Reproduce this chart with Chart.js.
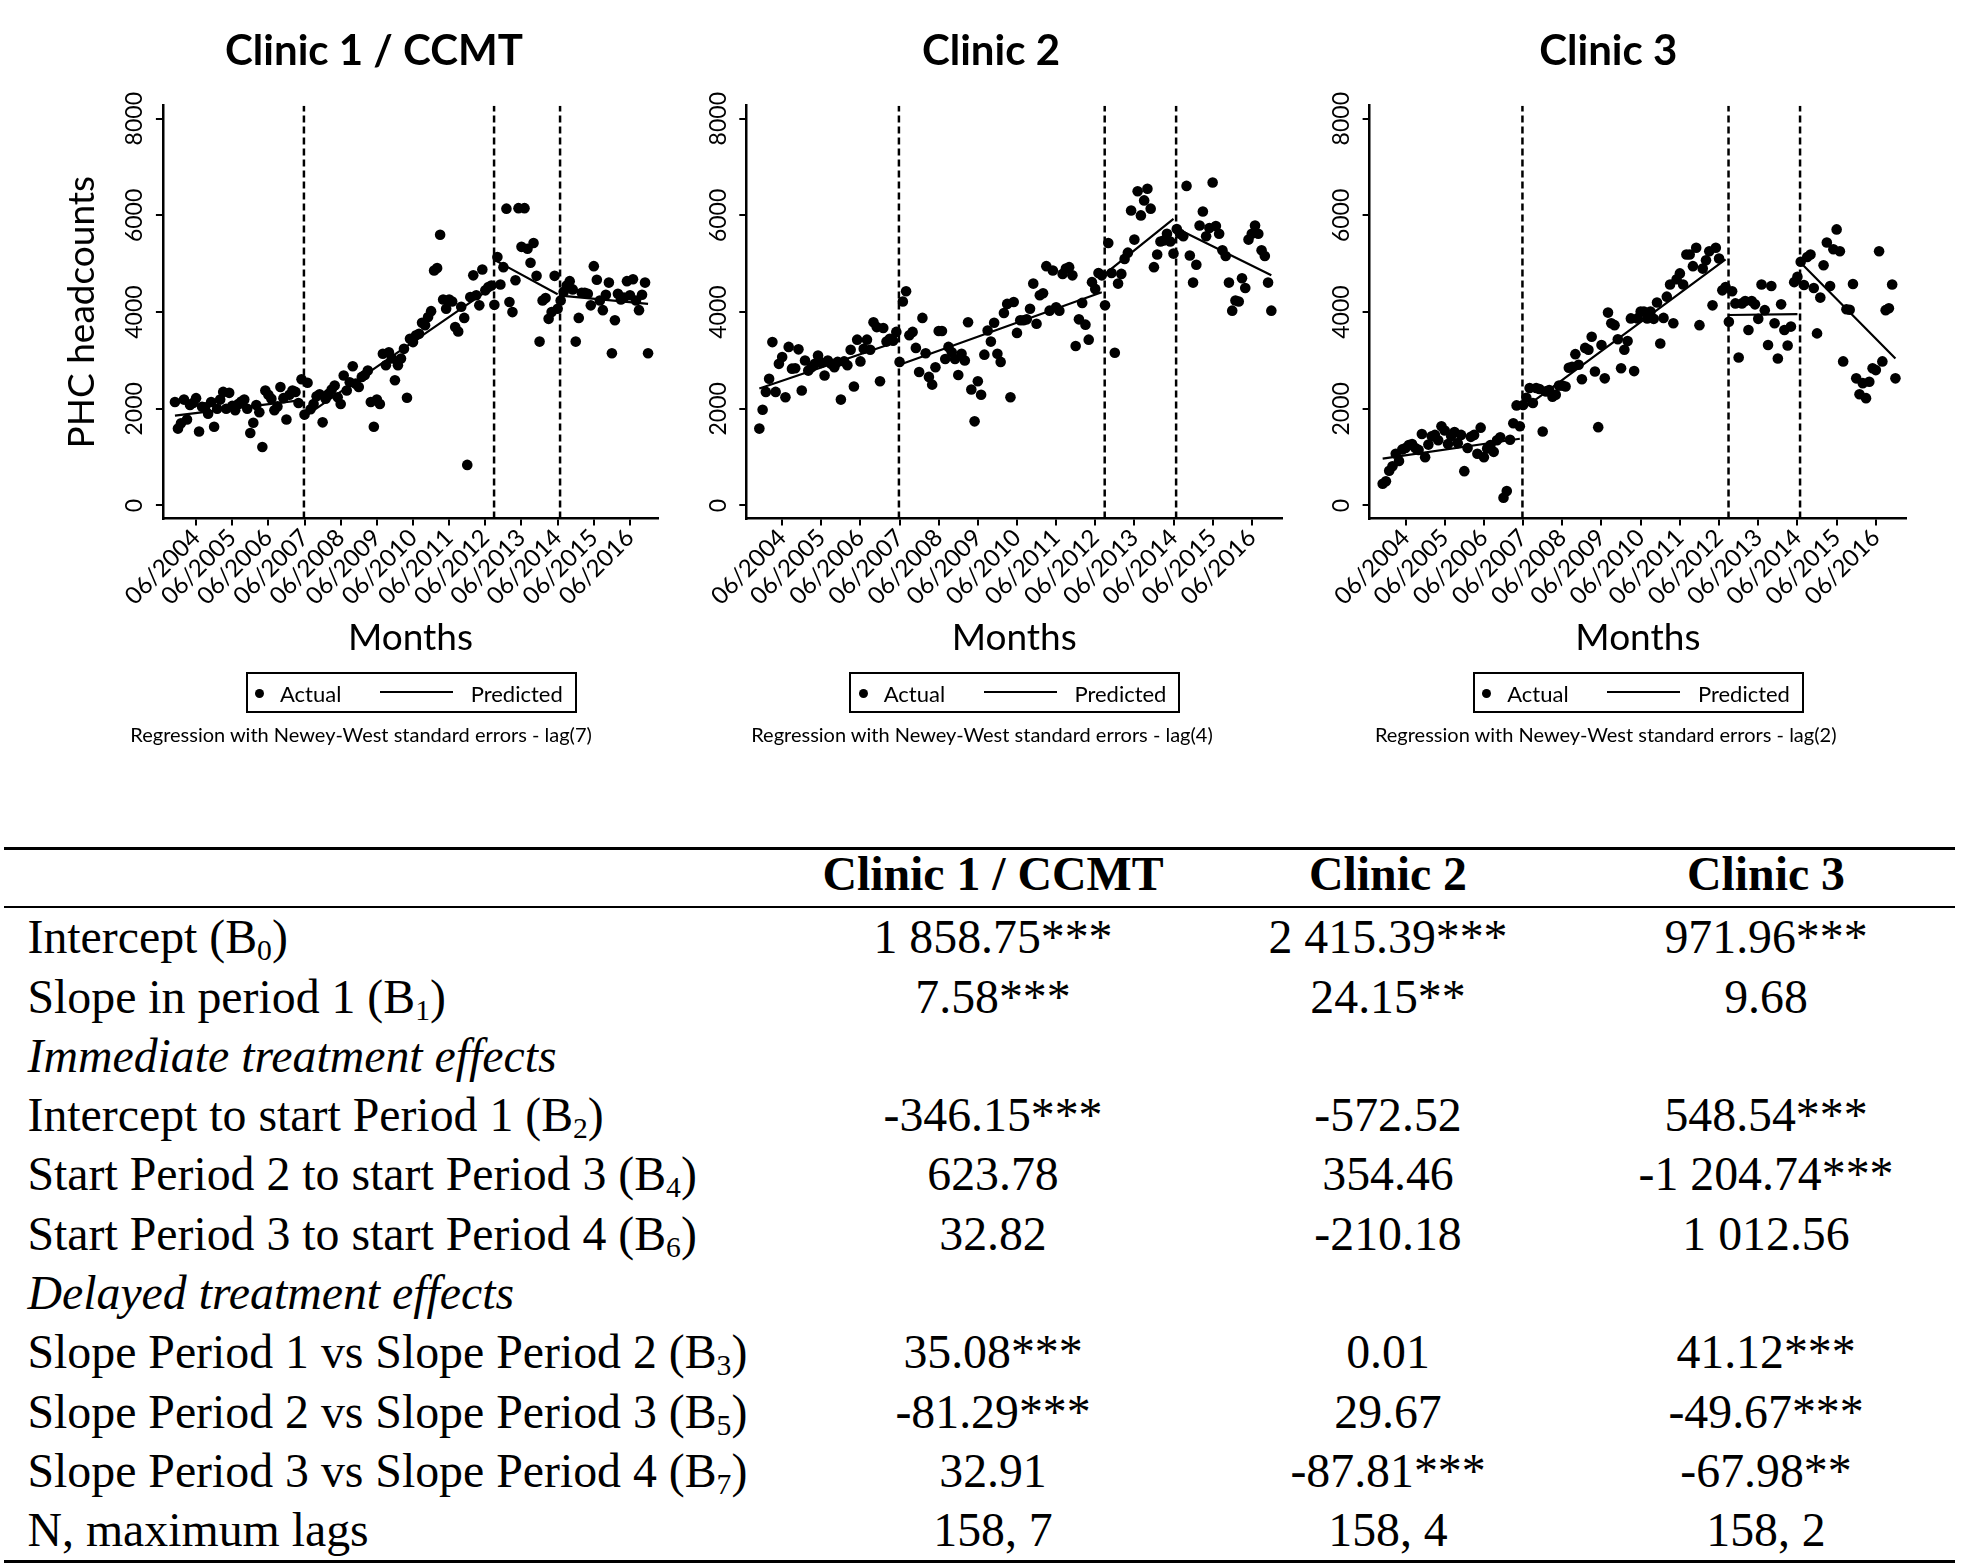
<!DOCTYPE html>
<html><head><meta charset="utf-8"><title>PHC headcounts - interrupted time series</title>
<script src="https://cdn.jsdelivr.net/npm/chart.js@4.4.1/dist/chart.umd.min.js"></script>
<style>
html,body{margin:0;padding:0;background:#fff;}
body{position:relative;width:1961px;height:1566px;overflow:hidden;color:#000;}
canvas{position:absolute;top:0;}
.abs{position:absolute;white-space:nowrap;}
.ptitle{font-family:Lato,sans-serif;font-weight:700;font-size:42px;line-height:50px;transform:translateX(-50%);}
.leg{font-family:Lato,sans-serif;font-size:22px;line-height:26px;}
.note{font-family:Lato,sans-serif;font-size:20px;line-height:25px;transform:translateX(-50%);}
.box{position:absolute;box-sizing:border-box;border:2px solid #000;}
.dot{position:absolute;border-radius:50%;background:#000;}
.hl{position:absolute;background:#000;}
.tt{font-family:"Liberation Serif","Times New Roman",serif;font-size:47.8px;line-height:60px;}
.tc{transform:translateX(-50%);}
.tt sub{font-size:0.62em;vertical-align:-0.22em;line-height:0;}
</style></head><body>
<canvas id="c1" width="680" height="679" style="left:0px;width:680px;height:679px"></canvas>
<canvas id="c2" width="640" height="679" style="left:660px;width:640px;height:679px"></canvas>
<canvas id="c3" width="640" height="679" style="left:1300px;width:640px;height:679px"></canvas>
<script>
// ---------- data ----------
const monthIdx = Array.from({length:158},(_,i)=>i); // month 0 = 11/2003 ... 157 = 12/2016
const xTickVals = [7,19,31,43,55,67,79,91,103,115,127,139,151];
const xTickLabels = ['06/2004','06/2005','06/2006','06/2007','06/2008','06/2009','06/2010','06/2011','06/2012','06/2013','06/2014','06/2015','06/2016'];
const yTickVals = [0,2000,4000,6000,8000];
const periodStarts = [42.8,105.9,127.8];

const clinicTitles = ['Clinic 1 / CCMT','Clinic 2','Clinic 3'];
const clinicLags = [7,4,2];

const c1Actual = [
2140,1590,1700,2190,1780,2080,2120,2220,1530,2040,
2030,1900,2140,1630,2000,2190,2350,2000,2330,2060,
1970,2100,2150,2190,2000,1500,1710,2080,1930,1210,
2380,2290,2210,1970,2050,2450,2220,1780,2290,2380,
2350,2120,2610,1880,2540,1990,2100,2260,2300,1720,
2210,2310,2400,2480,2240,2100,2690,2380,2550,2880,
2520,2450,2660,2700,2790,2140,1630,2190,2100,3140,
2900,3170,3040,2590,2900,3040,3240,2230,3450,3380,
3520,3550,3780,3730,3900,4020,4860,4910,5600,4260,
4070,4260,4220,3690,3600,4110,3880,840,4310,4760,
4350,4140,4880,4450,4520,4550,4150,5140,4570,4930,
6140,4210,4000,4660,6150,5350,6150,5310,5020,5430,
4750,3390,4240,4290,3860,4000,4750,4070,4240,4420,
4550,4640,4470,3390,3880,4400,4400,4380,4140,4950,
4670,4240,4040,4360,4610,3150,3830,4380,4260,4300,
4640,4350,4680,4240,4040,4360,4610,3150];
const c2Actual = [
1590,1980,2350,2620,3380,2350,2930,3070,2240,3280,
2830,2840,3230,2380,3000,2790,2860,2930,3100,2950,
2690,3000,2930,2860,2970,2190,2980,2900,3220,2460,
3430,2980,3240,3430,3220,3790,3690,2570,3670,3390,
3450,3410,3590,2970,4220,4430,3520,3590,3260,2760,
3880,3150,2660,2500,2860,3610,3610,3030,3280,3170,
3030,2700,3140,3000,3790,2400,1740,2570,2290,3120,
3620,3390,3780,3140,2970,3980,4170,2240,4210,3570,
3830,3830,3850,4070,4590,3760,4350,4390,4950,4030,
4860,4100,4030,4790,4900,4930,4760,3300,3850,4190,
3740,3430,4620,4480,4810,4760,4140,5430,4810,3160,
4590,4790,5100,5230,6100,5500,6500,6000,6310,6550,
6140,4930,5190,5460,5480,5620,5460,5210,5720,5620,
5570,6610,5170,4610,4980,5790,6080,5570,5740,6680,
5780,5620,5280,5160,4610,4030,4240,4220,4700,4500,
5500,5620,5790,5620,5280,5160,4610,4030];
const c3Actual = [
450,500,720,810,1070,920,1160,1190,1250,1270,
1190,1150,1480,1000,1260,1430,1460,1350,1640,1550,
1270,1430,1520,1290,1460,710,1190,1420,1460,1070,
1610,1000,1180,1250,1110,1350,1410,160,300,1360,
1700,2070,1640,2080,2230,2430,2120,2430,2410,1530,
2360,2390,2250,2290,2480,2480,2460,2850,2870,3130,
2910,2610,3260,3220,3490,2770,1620,3320,2630,3990,
3770,3730,3440,2840,3220,3400,3870,2780,3870,4010,
4010,3870,4010,3860,4200,3350,3880,4320,4570,3770,
4680,4800,4570,5190,5190,4950,5330,3730,4900,5070,
5260,4140,5330,5110,4450,4520,3800,4430,4180,3060,
4180,4230,3630,4230,4160,3860,4570,4040,3320,4540,
3770,3040,4160,3630,3310,3700,4620,4730,5040,4560,
5140,5190,4500,3560,4300,4970,5440,4540,5300,5710,
5260,2980,4060,4050,4580,2630,2300,2530,2220,2560,
2840,2800,5260,2980,4040,4080,4570,2630];

// predicted segments (endpoints per period, null = break)
const predX  = [0,42,42.5,43,105,105.5,106,127,127.5,128,157];
const c1Pred = [1860,2180,null,1840,4500,null,5080,4370,null,4340,4170];
const c2Pred = [2420,3380,null,2910,4410,null,4790,5930,null,5730,4760];
const c3Pred = [970,1380,null,2000,5090,null,3940,3960,null,5020,3040];

// table
const tblHeader = ['Clinic 1 / CCMT','Clinic 2','Clinic 3'];
const tblLabels = ['Intercept','Slope in period 1','Immediate treatment effects','Intercept to start Period 1','Start Period 2 to start Period 3','Start Period 3 to start Period 4','Delayed treatment effects','Slope Period 1 vs Slope Period 2','Slope Period 2 vs Slope Period 3','Slope Period 3 vs Slope Period 4','N, maximum lags'];
const tblCoef = ['0','1',null,'2','4','6',null,'3','5','7',null];
const tblItalic = [false,false,true,false,false,false,true,false,false,false,false];
const tblClinic1 = ['1 858.75***','7.58***','','-346.15***','623.78','32.82','','35.08***','-81.29***','32.91','158, 7'];
const tblClinic2 = ['2 415.39***','24.15**','','-572.52','354.46','-210.18','','0.01','29.67','-87.81***','158, 4'];
const tblClinic3 = ['971.96***','9.68','','548.54***','-1 204.74***','1 012.56','','41.12***','-49.67***','-67.98**','158, 2'];

// ---------- layout ----------
const Y_MIN = -271, Y_MAX = 8269, X_MIN = -4, X_MAX = 160.3;
const panels = [
  {id:'c1', actual:c1Actual, pred:c1Pred, yW:162.9, padR:22, yTitle:true,  titleC:374,  legL:245.7,  noteC:361.1},
  {id:'c2', actual:c2Actual, pred:c2Pred, yW:86.3,  padR:17.9, yTitle:false, titleC:991,  legL:849.4,  noteC:982},
  {id:'c3', actual:c3Actual, pred:c3Pred, yW:69.6,  padR:33.8, yTitle:false, titleC:1608.3, legL:1472.9, noteC:1605.7}
];

Chart.defaults.font.family = 'Lato';
Chart.defaults.color = '#000';

const yLabelPlugin = {
  id:'yRotLabels',
  afterDraw(chart){
    const s = chart.scales.y, ctx = chart.ctx;
    ctx.save();
    ctx.font = '23px Lato';
    ctx.fillStyle = '#000';
    ctx.textAlign = 'center';
    ctx.textBaseline = 'middle';
    const x = chart.chartArea.left - 28.2;
    s.ticks.forEach(t => {
      const y = s.getPixelForValue(t.value);
      ctx.save(); ctx.translate(x, y); ctx.rotate(-Math.PI/2);
      ctx.fillText(String(t.value), 0, 0);
      ctx.restore();
    });
    ctx.restore();
  }
};

function addEl(cls, left, top, html){
  const d = document.createElement('div');
  d.className = 'abs ' + cls;
  d.style.left = left + 'px'; d.style.top = top + 'px';
  d.innerHTML = html;
  document.body.appendChild(d);
  return d;
}

panels.forEach((p, k) => {
  const datasets = [
    {label:'Actual', data: monthIdx.map((m,i)=>({x:m, y:p.actual[i]})), showLine:false,
     pointRadius:5.3, pointHoverRadius:5.3, pointBackgroundColor:'#000', pointBorderWidth:0, borderColor:'#000'},
    {label:'Predicted', data: predX.map((x,i)=>({x:x, y:p.pred[i]})), showLine:true, spanGaps:false,
     borderColor:'#000', borderWidth:2.2, pointRadius:0, pointHoverRadius:0}
  ];
  periodStarts.forEach(ps => datasets.push({label:'start', data:[{x:ps,y:Y_MIN},{x:ps,y:Y_MAX}], showLine:true,
     borderColor:'#000', borderWidth:2.5, borderDash:[7,4], pointRadius:0, pointHoverRadius:0}));

  new Chart(document.getElementById(p.id), {
    type:'scatter',
    data:{datasets},
    plugins:[yLabelPlugin],
    options:{
      responsive:false, animation:false, devicePixelRatio:1,
      layout:{padding:{left:0, right:p.padR, top:105.7, bottom:0}},
      plugins:{legend:{display:false}, tooltip:{enabled:false}, title:{display:false}},
      scales:{
        x:{type:'linear', min:X_MIN, max:X_MAX,
           afterBuildTicks: s => { s.ticks = xTickVals.map(v=>({value:v})); },
           afterFit: s => { s.height = 160.4; },
           ticks:{autoSkip:false, minRotation:45, maxRotation:45, padding:-2, color:'#000',
                  font:{family:'Lato', size:24},
                  callback: v => xTickLabels[xTickVals.indexOf(v)] },
           grid:{display:true, drawOnChartArea:false, drawTicks:true, tickLength:7, color:'#000', lineWidth:2},
           border:{display:true, color:'#000', width:2.5},
           title:{display:true, text:'Months', color:'#000', font:{family:'Lato', size:37}, padding:{top:0, bottom:18.8}}
        },
        y:{type:'linear', min:Y_MIN, max:Y_MAX,
           afterBuildTicks: s => { s.ticks = yTickVals.map(v=>({value:v})); },
           afterFit: s => { s.width = p.yW; },
           ticks:{display:false},
           grid:{display:true, drawOnChartArea:false, drawTicks:true, tickLength:7, color:'#000', lineWidth:2},
           border:{display:true, color:'#000', width:2.5},
           title:{display:p.yTitle, text:'PHC headcounts', color:'#000', font:{family:'Lato', size:37}, padding:{top:59.8, bottom:0}}
        }
      }
    }
  });

  // panel title
  addEl('ptitle', p.titleC, 24.2, clinicTitles[k]);
  // legend box
  const b = document.createElement('div');
  b.className = 'box';
  b.style.left = p.legL + 'px'; b.style.top = '671.7px'; b.style.width = '331px'; b.style.height = '41.6px';
  document.body.appendChild(b);
  const dot = document.createElement('div');
  dot.className = 'dot';
  dot.style.left = (p.legL + 13.6 - 4.5) + 'px'; dot.style.top = (693.3 - 4.5) + 'px';
  dot.style.width = '9px'; dot.style.height = '9px';
  document.body.appendChild(dot);
  addEl('leg', p.legL + 34.3, 681.2, 'Actual');
  const ln = document.createElement('div');
  ln.className = 'hl';
  ln.style.left = (p.legL + 134.3) + 'px'; ln.style.top = '691.3px'; ln.style.width = '73.3px'; ln.style.height = '2px';
  document.body.appendChild(ln);
  addEl('leg', p.legL + 225, 681.2, 'Predicted');
  // note
  addEl('note', p.noteC, 721.8, 'Regression with Newey-West standard errors - lag(' + clinicLags[k] + ')');
});

// ---------- table ----------
function rule(top, h){
  const d = document.createElement('div');
  d.className = 'hl';
  d.style.left = '4px'; d.style.width = '1951px'; d.style.top = top + 'px'; d.style.height = h + 'px';
  document.body.appendChild(d);
}
rule(846.5, 3); rule(906.4, 2); rule(1560, 3);
const colC = [993, 1388, 1766];
tblHeader.forEach((h,j) => { const e = addEl('tt tc', colC[j], 844.2, h); e.style.fontWeight = '700'; });
const cols = [tblClinic1, tblClinic2, tblClinic3];
tblLabels.forEach((lab, i) => {
  const top = 907.2 + 59.3 * i;
  let html = lab + (tblCoef[i] !== null ? ' (B<sub>' + tblCoef[i] + '</sub>)' : '');
  const e = addEl('tt', 27.5, top, html);
  if (tblItalic[i]) e.style.fontStyle = 'italic';
  cols.forEach((c, j) => { if (c[i]) addEl('tt tc', colC[j], top, c[i]); });
});
</script></body></html>
